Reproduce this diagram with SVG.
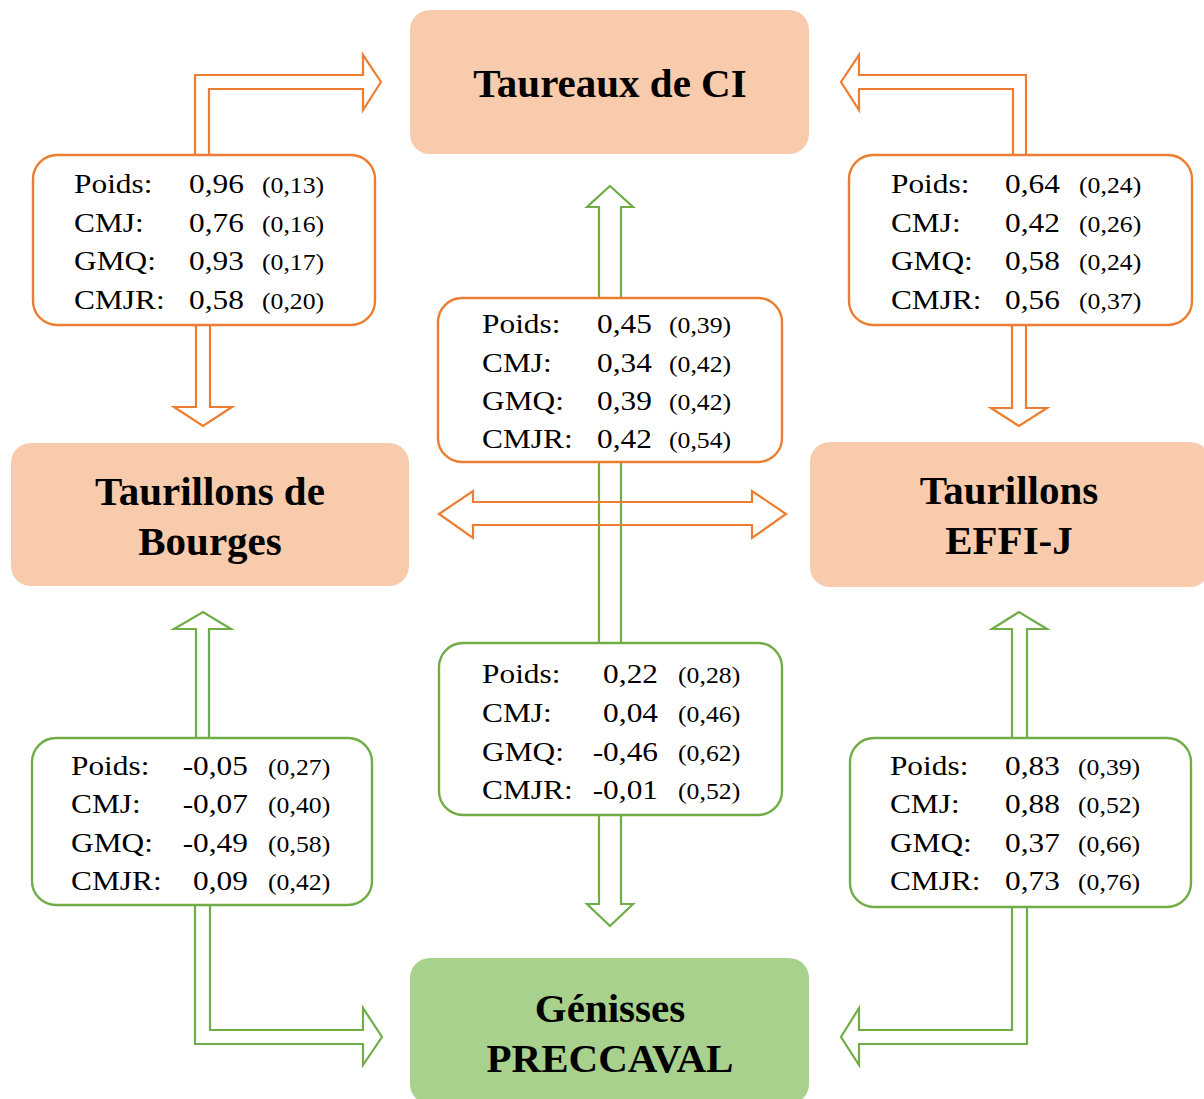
<svg xmlns="http://www.w3.org/2000/svg" width="1204" height="1099" viewBox="0 0 1204 1099">
<style>
.bg{fill:#ffffff}
.o{fill:none;stroke:#ED7D31;stroke-width:2.2;stroke-linejoin:miter}
.g{fill:none;stroke:#70AD47;stroke-width:2.2;stroke-linejoin:miter}
.lbo{fill:#ffffff;stroke:#ED7D31;stroke-width:2.4}
.lbg{fill:#ffffff;stroke:#70AD47;stroke-width:2.4}
.no{fill:#F8CBAD}
.ng{fill:#A9D18E}
.t{font-family:"Liberation Serif","Times New Roman",serif;font-weight:bold;font-size:41px;fill:#000;text-anchor:middle}
.m{font-family:"Liberation Serif","Times New Roman",serif;font-size:28px;fill:#000}
.p{font-family:"Liberation Serif","Times New Roman",serif;font-size:23px;fill:#000}
.e{text-anchor:end}
</style>
<rect class="bg" x="0" y="0" width="1204" height="1099"/>

<g id="connectors">
  <path class="g" d="M610,186 L633,207 H621 V904 H633 L610,926 L587,904 H599 V207 H587 Z"/>
  <path class="o" d="M439,514 L473,491 V502 H752 V491 L786,514 L752,538 V525 H473 V538 Z"/>
  <path class="o" d="M195,155 V75 H363 V55 L381,82 L363,110 V89 H209 V155"/>
  <path class="o" d="M196,325 V407 H174 L203,426 L232,407 H210 V325"/>
  <path class="o" d="M1026,155 V75 H859 V55 L841,82 L859,110 V89 H1013 V155"/>
  <path class="o" d="M1012,325 V408 H991 L1019,426 L1047,408 H1026 V325"/>
  <path class="g" d="M196,738 V629 H174 L203,612 L231,629 H209 V738"/>
  <path class="g" d="M210,905 V1030 H363 V1008 L382,1037 L363,1065 V1044 H195 V905"/>
  <path class="g" d="M1012,738 V629 H992 L1019,612 L1047,629 H1027 V738"/>
  <path class="g" d="M1012,907 V1030 H859 V1008 L841,1037 L859,1065 V1044 H1027 V907"/>
</g>

<g id="label-tl"><rect class="lbo" x="33" y="155" width="342" height="170" rx="24"/></g>
<g id="label-tr"><rect class="lbo" x="849" y="155" width="343" height="170" rx="24"/></g>
<g id="label-co"><rect class="lbo" x="438" y="298" width="344" height="164" rx="24"/></g>
<g id="label-cg"><rect class="lbg" x="439" y="643" width="343" height="172" rx="24"/></g>
<g id="label-bl"><rect class="lbg" x="32" y="738" width="340" height="167" rx="24"/></g>
<g id="label-br"><rect class="lbg" x="850" y="738" width="341" height="169" rx="24"/></g>

<g transform="scale(1.12,1)">
  <g id="text-tl">
    <text class="m" x="66.1" y="193">Poids:</text><text class="m" x="168.8" y="193">0,96</text><text class="p" x="233.9" y="193">(0,13)</text>
    <text class="m" x="66.1" y="232">CMJ:</text><text class="m" x="168.8" y="232">0,76</text><text class="p" x="233.9" y="232">(0,16)</text>
    <text class="m" x="66.1" y="270">GMQ:</text><text class="m" x="168.8" y="270">0,93</text><text class="p" x="233.9" y="270">(0,17)</text>
    <text class="m" x="66.1" y="309">CMJR:</text><text class="m" x="168.8" y="309">0,58</text><text class="p" x="233.9" y="309">(0,20)</text>
  </g>
  <g id="text-tr">
    <text class="m" x="795.5" y="193">Poids:</text><text class="m" x="897.3" y="193">0,64</text><text class="p" x="963.4" y="193">(0,24)</text>
    <text class="m" x="795.5" y="232">CMJ:</text><text class="m" x="897.3" y="232">0,42</text><text class="p" x="963.4" y="232">(0,26)</text>
    <text class="m" x="795.5" y="270">GMQ:</text><text class="m" x="897.3" y="270">0,58</text><text class="p" x="963.4" y="270">(0,24)</text>
    <text class="m" x="795.5" y="309">CMJR:</text><text class="m" x="897.3" y="309">0,56</text><text class="p" x="963.4" y="309">(0,37)</text>
  </g>
  <g id="text-co">
    <text class="m" x="430.4" y="333">Poids:</text><text class="m" x="533" y="333">0,45</text><text class="p" x="597.3" y="333">(0,39)</text>
    <text class="m" x="430.4" y="372">CMJ:</text><text class="m" x="533" y="372">0,34</text><text class="p" x="597.3" y="372">(0,42)</text>
    <text class="m" x="430.4" y="410">GMQ:</text><text class="m" x="533" y="410">0,39</text><text class="p" x="597.3" y="410">(0,42)</text>
    <text class="m" x="430.4" y="448">CMJR:</text><text class="m" x="533" y="448">0,42</text><text class="p" x="597.3" y="448">(0,54)</text>
  </g>
  <g id="text-cg">
    <text class="m" x="430.4" y="683">Poids:</text><text class="m e" x="587.5" y="683">0,22</text><text class="p" x="605.4" y="683">(0,28)</text>
    <text class="m" x="430.4" y="722">CMJ:</text><text class="m e" x="587.5" y="722">0,04</text><text class="p" x="605.4" y="722">(0,46)</text>
    <text class="m" x="430.4" y="761">GMQ:</text><text class="m e" x="587.5" y="761">-0,46</text><text class="p" x="605.4" y="761">(0,62)</text>
    <text class="m" x="430.4" y="799">CMJR:</text><text class="m e" x="587.5" y="799">-0,01</text><text class="p" x="605.4" y="799">(0,52)</text>
  </g>
  <g id="text-bl">
    <text class="m" x="63.4" y="775">Poids:</text><text class="m e" x="221.4" y="775">-0,05</text><text class="p" x="239.3" y="775">(0,27)</text>
    <text class="m" x="63.4" y="813">CMJ:</text><text class="m e" x="221.4" y="813">-0,07</text><text class="p" x="239.3" y="813">(0,40)</text>
    <text class="m" x="63.4" y="852">GMQ:</text><text class="m e" x="221.4" y="852">-0,49</text><text class="p" x="239.3" y="852">(0,58)</text>
    <text class="m" x="63.4" y="890">CMJR:</text><text class="m e" x="221.4" y="890">0,09</text><text class="p" x="239.3" y="890">(0,42)</text>
  </g>
  <g id="text-br">
    <text class="m" x="794.6" y="775">Poids:</text><text class="m" x="897.3" y="775">0,83</text><text class="p" x="962.5" y="775">(0,39)</text>
    <text class="m" x="794.6" y="813">CMJ:</text><text class="m" x="897.3" y="813">0,88</text><text class="p" x="962.5" y="813">(0,52)</text>
    <text class="m" x="794.6" y="852">GMQ:</text><text class="m" x="897.3" y="852">0,37</text><text class="p" x="962.5" y="852">(0,66)</text>
    <text class="m" x="794.6" y="890">CMJR:</text><text class="m" x="897.3" y="890">0,73</text><text class="p" x="962.5" y="890">(0,76)</text>
  </g>
</g>

<g id="node-taureaux">
  <rect class="no" x="410" y="10" width="399" height="144" rx="20"/>
  <text class="t" x="610" y="97">Taureaux de CI</text>
</g>
<g id="node-bourges">
  <rect class="no" x="11" y="443" width="398" height="143" rx="20"/>
  <text class="t" x="210" y="505">Taurillons de</text>
  <text class="t" x="210" y="555">Bourges</text>
</g>
<g id="node-effij">
  <rect class="no" x="810" y="442" width="400" height="145" rx="20"/>
  <text class="t" x="1009" y="504">Taurillons</text>
  <text class="t" x="1009" y="554">EFFI-J</text>
</g>
<g id="node-genisses">
  <rect class="ng" x="410" y="958" width="399" height="146" rx="20"/>
  <text class="t" x="610" y="1022">Génisses</text>
  <text class="t" x="610" y="1072">PRECCAVAL</text>
</g>
</svg>
